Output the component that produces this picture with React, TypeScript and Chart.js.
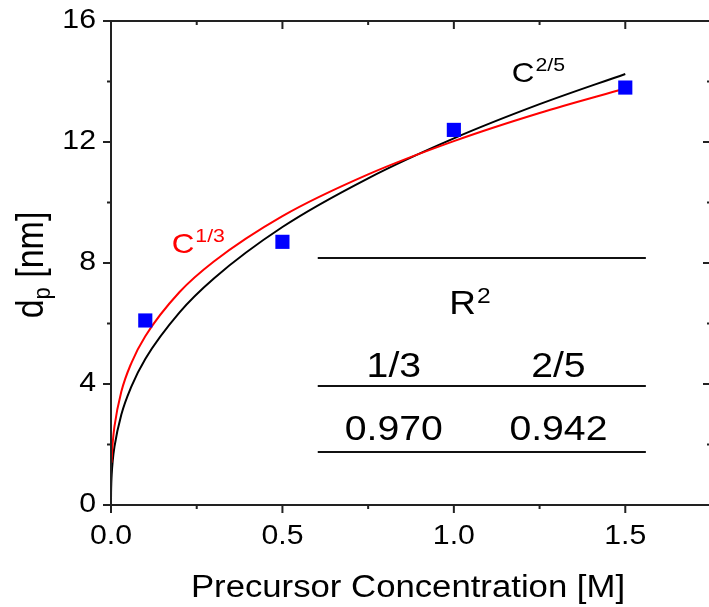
import { useEffect, useRef } from "react";
import { Chart, registerables } from "chart.js";

Chart.register(...registerables);

// Measured particle diameters
const measuredConc = [0.1, 0.5, 1.0, 1.5];
const measuredDp = [6.1, 8.7, 12.4, 13.8];

// C^(1/3) fit curve
const fitThirdConc = [0.0016, 0.003, 0.005, 0.01, 0.03, 0.06, 0.1, 0.2, 0.3, 0.5, 0.75, 1.0, 1.25, 1.5];
const fitThirdDp = [1.4, 1.73, 2.06, 2.59, 3.74, 4.71, 5.58, 7.04, 8.05, 9.55, 10.93, 12.03, 12.96, 13.77];

// C^(2/5) fit curve
const fitTwoFifthsConc = [0.00002, 0.0002, 0.001, 0.002, 0.005, 0.01, 0.03, 0.06, 0.1, 0.2, 0.3, 0.5, 0.75, 1.0, 1.25, 1.5];
const fitTwoFifthsDp = [0.16, 0.4, 0.76, 1.01, 1.46, 1.92, 2.98, 3.93, 4.83, 6.37, 7.49, 9.19, 10.8, 12.12, 13.25, 14.25];

// Axis ticks
const xMajorTicks = [0.0, 0.5, 1.0, 1.5];
const xMinorTicks = [0.25, 0.75, 1.25, 1.75];
const yMajorTicks = [0, 4, 8, 12, 16];
const yMinorTicks = [2, 6, 10, 14];

// Table of goodness of fit
const exponentLabels = ["1/3", "2/5"];
const rSquaredValues = ["0.970", "0.942"];

const FONT = '"Liberation Sans", Arial, sans-serif';
const SX = 1.12;

function drawText(
  ctx: CanvasRenderingContext2D,
  s: string,
  x: number,
  y: number,
  size: number,
  align: "left" | "center" | "right",
  color = "#000",
  baseline: CanvasTextBaseline = "alphabetic"
) {
  ctx.save();
  ctx.font = `${size}px ${FONT}`;
  ctx.fillStyle = color;
  ctx.textBaseline = baseline;
  ctx.textAlign = "left";
  const w = ctx.measureText(s).width * SX;
  const x0 = align === "left" ? x : align === "center" ? x - w / 2 : x - w;
  ctx.translate(x0, y);
  ctx.scale(SX, 1);
  ctx.fillText(s, 0, 0);
  ctx.restore();
  return w;
}

function textWidth(ctx: CanvasRenderingContext2D, s: string, size: number) {
  ctx.save();
  ctx.font = `${size}px ${FONT}`;
  const w = ctx.measureText(s).width * SX;
  ctx.restore();
  return w;
}

const decorPlugin = {
  id: "decor",
  afterDraw(chart: any) {
    const { ctx, chartArea: a, scales } = chart;
    const x = scales.x;
    const y = scales.y;
    const px = (v: number) => x.getPixelForValue(v);
    const py = (v: number) => y.getPixelForValue(v);
    const seg = (x1: number, y1: number, x2: number, y2: number) => {
      ctx.beginPath();
      ctx.moveTo(x1, y1);
      ctx.lineTo(x2, y2);
      ctx.stroke();
    };

    ctx.save();
    ctx.strokeStyle = "#222";
    ctx.lineWidth = 2;
    ctx.strokeRect(a.left, a.top, a.right - a.left, a.bottom - a.top);

    // x ticks: outward on bottom, inward on top
    xMajorTicks.forEach((v) => {
      const p = px(v);
      seg(p, a.bottom, p, a.bottom + 8);
      seg(p, a.top, p, a.top + 8);
    });
    xMinorTicks.forEach((v) => {
      const p = px(v);
      seg(p, a.bottom, p, a.bottom + 4);
      seg(p, a.top, p, a.top + 4);
    });
    // y ticks: outward on left, inward on right
    yMajorTicks.forEach((v) => {
      const p = py(v);
      seg(a.left - 8, p, a.left, p);
      seg(a.right - 8, p, a.right, p);
    });
    yMinorTicks.forEach((v) => {
      const p = py(v);
      seg(a.left - 4, p, a.left, p);
      seg(a.right - 4, p, a.right, p);
    });
    ctx.restore();

    // tick labels
    xMajorTicks.forEach((v) => {
      drawText(ctx, v.toFixed(1), px(v), a.bottom + 39, 27, "center");
    });
    yMajorTicks.forEach((v) => {
      drawText(ctx, String(v), a.left - 15, py(v), 27, "right", "#000", "middle");
    });

    // x title
    drawText(ctx, "Precursor Concentration [M]", (a.left + a.right) / 2 - 3, 597, 31, "center");

    // y title (rotated) d_p [nm]
    ctx.save();
    ctx.translate(43, (a.top + a.bottom) / 2 + 2);
    ctx.rotate(-Math.PI / 2);
    ctx.scale(1, SX);
    ctx.fillStyle = "#000";
    ctx.textBaseline = "alphabetic";
    ctx.textAlign = "left";
    const big = 34;
    const small = 22;
    ctx.font = `${big}px ${FONT}`;
    const wd = ctx.measureText("d").width;
    const wrest = ctx.measureText(" [nm]").width;
    ctx.font = `${small}px ${FONT}`;
    const wp = ctx.measureText("p").width;
    const total = wd + wp + wrest;
    let cx = -total / 2;
    ctx.font = `${big}px ${FONT}`;
    ctx.fillText("d", cx, 0);
    cx += wd;
    ctx.font = `${small}px ${FONT}`;
    ctx.fillText("p", cx, 6);
    cx += wp;
    ctx.font = `${big}px ${FONT}`;
    ctx.fillText(" [nm]", cx, 0);
    ctx.restore();

    // curve labels
    {
      const lx = px(0.177);
      const ly = py(8.33);
      const w = drawText(ctx, "C", lx, ly, 28, "left", "#ff0000");
      drawText(ctx, "1/3", lx + w + 1, ly - 11, 19, "left", "#ff0000");
    }
    {
      const lx = px(1.169);
      const ly = py(13.98);
      const w = drawText(ctx, "C", lx, ly, 28, "left", "#000");
      drawText(ctx, "2/5", lx + w + 1, ly - 11, 19, "left", "#000");
    }

    // table
    ctx.save();
    ctx.strokeStyle = "#111";
    ctx.lineWidth = 2;
    const tl = px(0.603);
    const tr = px(1.56);
    [8.165, 3.93, 1.75].forEach((v) => {
      const p = Math.round(py(v));
      seg(tl, p, tr, p);
    });
    ctx.restore();

    {
      const rw = textWidth(ctx, "R", 33);
      const sw = textWidth(ctx, "2", 22);
      const cxR = px(1.047);
      const start = cxR - (rw + sw + 1) / 2;
      drawText(ctx, "R", start, py(6.3), 33, "left");
      drawText(ctx, "2", start + rw + 1, py(6.3) - 11, 22, "left");
    }
    const colX = [0.825, 1.305];
    exponentLabels.forEach((s, i) => {
      drawText(ctx, s, px(colX[i]), py(4.23), 35, "center");
    });
    rSquaredValues.forEach((s, i) => {
      drawText(ctx, s, px(colX[i]), py(2.15), 35, "center");
    });
  },
};

export default function App() {
  const ref = useRef<HTMLCanvasElement | null>(null);

  useEffect(() => {
    if (!ref.current) return;
    const chart = new Chart(ref.current, {
      type: "scatter",
      data: {
        datasets: [
          {
            label: "measured",
            data: measuredConc.map((c, i) => ({ x: c, y: measuredDp[i] })),
            pointStyle: "rect",
            pointRadius: 10,
            pointBackgroundColor: "#0000ff",
            pointBorderWidth: 0,
            pointBorderColor: "#0000ff",
            showLine: false,
            order: 0,
          },
          {
            label: "C^1/3",
            data: fitThirdConc.map((c, i) => ({ x: c, y: fitThirdDp[i] })),
            showLine: true,
            borderColor: "#ff0000",
            borderWidth: 2,
            pointRadius: 0,
            cubicInterpolationMode: "monotone",
            order: 1,
          },
          {
            label: "C^2/5",
            data: fitTwoFifthsConc.map((c, i) => ({ x: c, y: fitTwoFifthsDp[i] })),
            showLine: true,
            borderColor: "#000000",
            borderWidth: 2,
            pointRadius: 0,
            cubicInterpolationMode: "monotone",
            order: 2,
          },
        ],
      },
      options: {
        animation: false,
        responsive: false,
        maintainAspectRatio: false,
        events: [],
        layout: { padding: { left: 0, top: 21, right: 14, bottom: 0 } },
        plugins: {
          legend: { display: false },
          tooltip: { enabled: false },
        },
        scales: {
          x: {
            type: "linear",
            min: 0,
            max: 1.75,
            grid: { display: false },
            border: { display: false },
            ticks: { display: false },
            afterFit(s: any) {
              s.height = 102;
            },
          },
          y: {
            type: "linear",
            min: 0,
            max: 16,
            grid: { display: false },
            border: { display: false },
            ticks: { display: false },
            afterFit(s: any) {
              s.width = 111;
            },
          },
        },
      },
      plugins: [decorPlugin],
    } as any);
    return () => chart.destroy();
  }, []);

  return (
    <div
      style={{
        position: "fixed",
        left: 0,
        top: 0,
        width: 709,
        height: 607,
        overflow: "hidden",
        background: "#fff",
      }}
    >
      <canvas ref={ref} width={725} height={607} style={{ display: "block" }} />
    </div>
  );
}
